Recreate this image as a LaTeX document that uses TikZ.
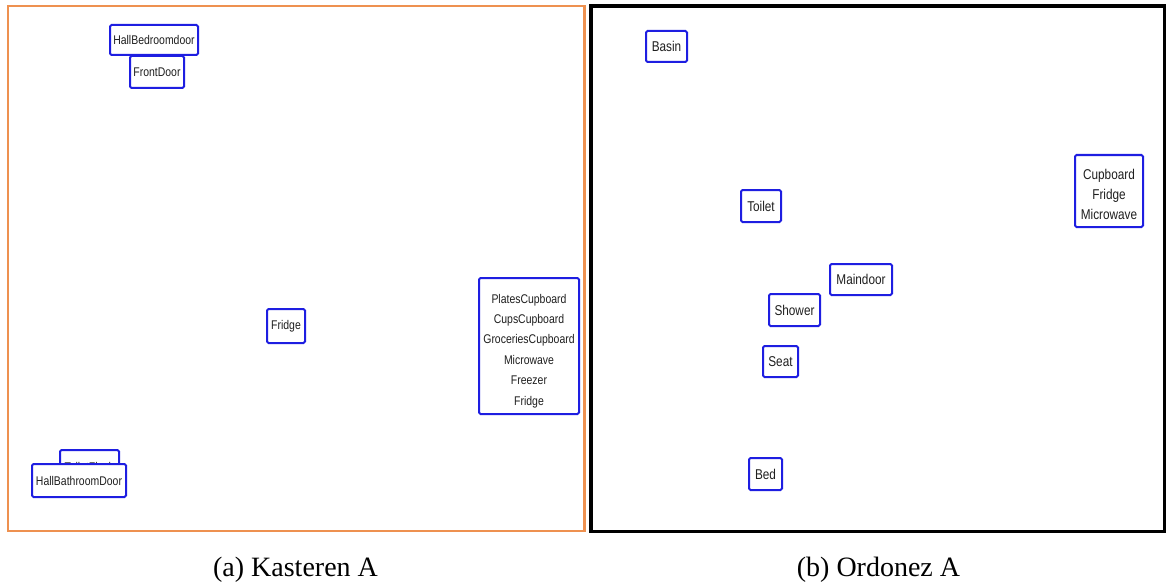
\documentclass[tikz,border=0pt]{standalone}
\usepackage{fontspec}
\setmainfont{Liberation Serif}
\newfontfamily\labelfont[FakeStretch=0.83]{Liberation Sans}
\begin{document}
\begin{tikzpicture}[x=1pt,y=-1pt,
  sensor/.style={draw=sensorblue, line width=2pt, rounded corners=1.5pt,
    fill=white, inner sep=0pt, align=center, text=black!88},
  smallsensor/.style={sensor, font=\labelfont\fontsize{12.6}{20.4}\selectfont},
  largesensor/.style={sensor, font=\labelfont\fontsize{14.2}{20}\selectfont},
  caption/.style={font=\fontsize{28}{30}\selectfont, anchor=base}]
\definecolor{sensorblue}{RGB}{30,30,225}
\definecolor{panelorange}{RGB}{238,145,80}
\useasboundingbox (0,0) rectangle (1167,583);

% panel frames
\draw[panelorange, line width=2.2pt] (8,6) rectangle (584.5,531);
\draw[black, line width=3.5pt] (591,6) rectangle (1164.5,531.5);

% Kasteren A
\node[smallsensor, minimum width=88pt, minimum height=30pt] (hallbed) at (154,40) {HallBedroomdoor};
\node[smallsensor, minimum width=54pt, minimum height=32pt] (front) at (157,72) {FrontDoor};
\node[smallsensor, minimum width=38pt, minimum height=34pt] (fridgeA) at (286,326) {Fridge};
\node[smallsensor, minimum width=100pt, minimum height=136pt] (kitchen) at (529,346)
  {\rule{0pt}{19pt}PlatesCupboard\\CupsCupboard\\GroceriesCupboard\\Microwave\\Freezer\\Fridge};
\node[smallsensor, minimum width=59pt, minimum height=34pt] (flush) at (89.5,467) {ToiletFlush};
\node[smallsensor, minimum width=94pt, minimum height=33pt] (hallbath) at (79,480.5) {HallBathroomDoor};

% Ordonez A
\node[largesensor, minimum width=41pt, minimum height=31pt] (basin) at (666.5,46.5) {Basin};
\node[largesensor, minimum width=40pt, minimum height=32pt] (toilet) at (761,206) {Toilet};
\node[largesensor, minimum width=62pt, minimum height=31pt] (maindoor) at (861,279.5) {Maindoor};
\node[largesensor, minimum width=51pt, minimum height=32pt] (shower) at (794.5,310) {Shower};
\node[largesensor, minimum width=35pt, minimum height=31pt] (seat) at (780.5,361.5) {Seat};
\node[largesensor, minimum width=33pt, minimum height=32pt] (bed) at (765.5,474) {Bed};
\node[largesensor, minimum width=68pt, minimum height=72pt] (cupboard) at (1109,191)
  {\rule{0pt}{16.5pt}Cupboard\\Fridge\\Microwave};

% captions
\node[caption] (capA) at (295.5,576) {(a) Kasteren A};
\node[caption] (capB) at (878.5,576) {(b) Ordonez A};
\end{tikzpicture}
\end{document}
